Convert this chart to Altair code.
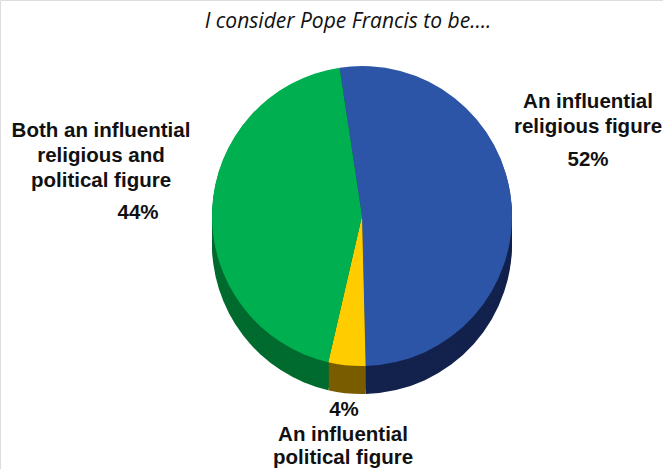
import math
import altair as alt
import pandas as pd

# ---- data ----
categories = ["An influential religious figure",
              "An influential political figure",
              "Both an influential religious and political figure"]
values = [52, 4, 44]
order_idx = [0, 1, 2]
top_colors = ["#2c55a8", "#ffcc00", "#00b050"]
side_colors = ["#13224c", "#7a5c00", "#006b2e"]

title_text = "I consider Pope Francis to be…."
label_religious = ["An influential", "religious figure"]
label_political = ["An influential", "political figure"]
label_both = ["Both an influential", "religious and", "political figure"]
pct_labels = ["52%", "4%", "44%"]

df = pd.DataFrame({"category": categories, "value": values, "idx": order_idx})
one = pd.DataFrame({"k": [0]})

CX, CY, R, DEPTH = 362, 216, 150, 28
start = -0.15

theta = alt.Theta("value:Q", stack=True,
                  scale=alt.Scale(domain=[0, 100], range=[start, 2 * math.pi + start]))

def pie_layer(colors, dy):
    return alt.Chart(df).mark_arc(radius=R, strokeWidth=0).encode(
        theta=theta,
        color=alt.Color("category:N", scale=alt.Scale(domain=categories, range=colors), legend=None),
        order=alt.Order("idx:Q"),
        x=alt.value(CX),
        y=alt.value(CY + dy),
    )

side = alt.layer(*[pie_layer(side_colors, d) for d in range(DEPTH, 0, -3)])
top_layer = pie_layer(top_colors, 0)
pie = alt.layer(side, top_layer).resolve_scale(color="independent")

def text_layer(text, x, y, size=20.5, bold=True, italic=False, font="Liberation Sans", lh=25):
    return alt.Chart(one).mark_text(
        text=text, font=font, fontSize=size,
        fontWeight="bold" if bold else "normal",
        fontStyle="italic" if italic else "normal",
        align="center", baseline="middle", lineHeight=lh, color="#111111",
    ).encode(x=alt.value(x), y=alt.value(y))

texts = [
    text_layer(title_text, 348, 22, size=21, bold=False, italic=True, font="Open Sans"),
    text_layer(label_religious, 588, 102),
    text_layer(pct_labels[0], 588, 160),
    text_layer(label_both, 101, 131),
    text_layer(pct_labels[2], 138, 213),
    text_layer(pct_labels[1], 344, 410),
    text_layer(label_political, 343, 435, lh=23),
]

chart = alt.layer(pie, *texts).properties(
    width=663, height=469, padding=0, autosize="none"
).configure_view(stroke=None).configure(background="white")

chart.save("out.html", embed_options={"renderer": "svg", "actions": False})
